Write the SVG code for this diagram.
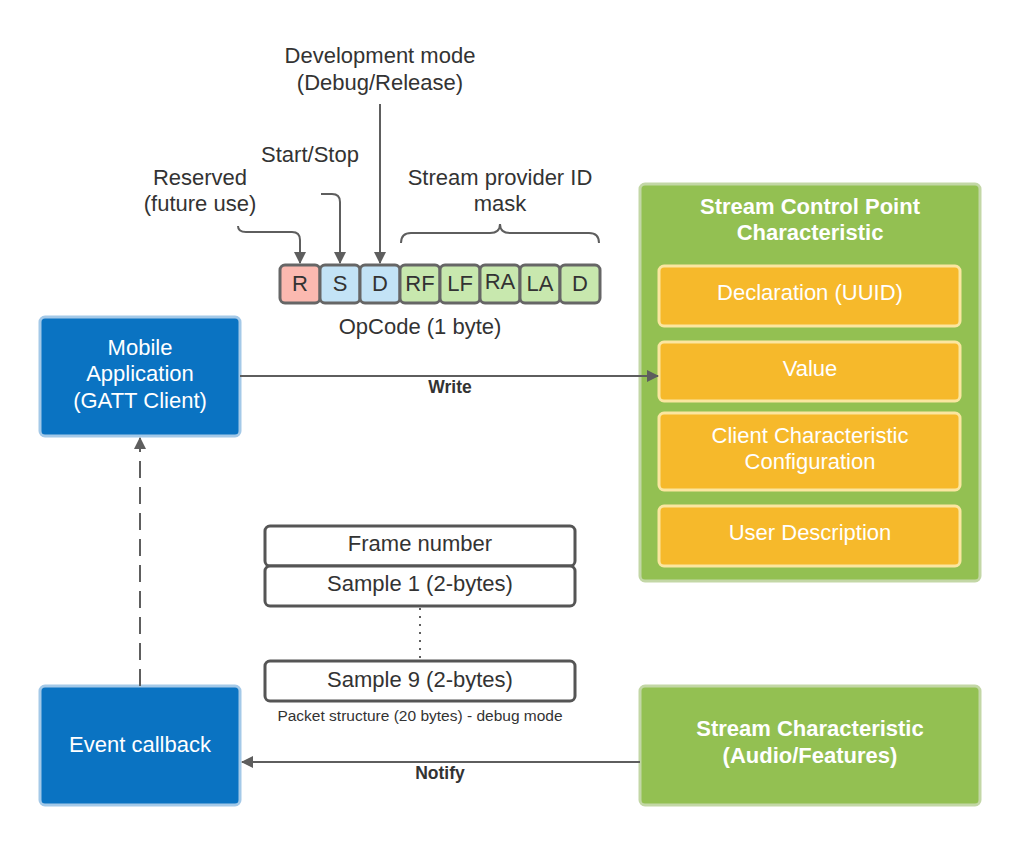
<svg xmlns="http://www.w3.org/2000/svg" width="1020" height="846" viewBox="0 0 1020 846">
<style>
text{font-family:"Liberation Sans",Arial,sans-serif;}
.t{font-size:22px;fill:#333;text-anchor:middle;}
.w{font-size:22px;fill:#fff;text-anchor:middle;}
.wb{font-size:22px;fill:#fff;text-anchor:middle;font-weight:bold;}
.lb{font-size:17.5px;fill:#333;text-anchor:middle;font-weight:bold;}
.blue{fill:#0a73c2;stroke:#a4c9e8;stroke-width:3;}
.green{fill:#93c052;stroke:#c3d7a6;stroke-width:3;}
.orange{fill:#f6b92b;stroke:#fbe6a0;stroke-width:3;}
.cell{stroke:#666;stroke-width:3;}
.pk{fill:#fff;stroke:#555;stroke-width:3;}
.ln{fill:none;stroke:#5e5e5e;stroke-width:2;}
</style>
<defs>
<marker id="ah" markerWidth="12" markerHeight="12" viewBox="0 0 12 12" refX="11" refY="6" orient="auto" markerUnits="userSpaceOnUse">
<path d="M0,0 L12,6 L0,12 Z" fill="#5e5e5e"/>
</marker>
</defs>

<g id="labels">
<text class="t" x="380" y="63">Development mode</text>
<text class="t" x="380" y="90">(Debug/Release)</text>
<text class="t" x="310" y="162">Start/Stop</text>
<text class="t" x="200" y="185">Reserved</text>
<text class="t" x="200" y="211">(future use)</text>
<text class="t" x="500" y="185">Stream provider ID</text>
<text class="t" x="500" y="211">mask</text>
<text class="t" x="420" y="334">OpCode (1 byte)</text>
</g>

<g id="opcode">
<rect class="cell" x="280" y="265" width="40" height="38" rx="5" fill="#fbb9b0"/>
<rect class="cell" x="320" y="265" width="40" height="38" rx="5" fill="#c3e3f6"/>
<rect class="cell" x="360" y="265" width="40" height="38" rx="5" fill="#c3e3f6"/>
<rect class="cell" x="400" y="265" width="40" height="38" rx="5" fill="#c8e8ae"/>
<rect class="cell" x="440" y="265" width="40" height="38" rx="5" fill="#c8e8ae"/>
<rect class="cell" x="480" y="265" width="40" height="38" rx="5" fill="#c8e8ae"/>
<rect class="cell" x="520" y="265" width="40" height="38" rx="5" fill="#c8e8ae"/>
<rect class="cell" x="560" y="265" width="40" height="38" rx="5" fill="#c8e8ae"/>
<text class="t" x="300" y="291">R</text>
<text class="t" x="340" y="291">S</text>
<text class="t" x="380" y="291">D</text>
<text class="t" x="420" y="291">RF</text>
<text class="t" x="460" y="291">LF</text>
<text class="t" x="500" y="289">RA</text>
<text class="t" x="540" y="291">LA</text>
<text class="t" x="580" y="291">D</text>
</g>

<g id="mobile">
<rect class="blue" x="40" y="317" width="200" height="119" rx="5"/>
<text class="w" x="140" y="355">Mobile</text>
<text class="w" x="140" y="381">Application</text>
<text class="w" x="140" y="408">(GATT Client)</text>
</g>

<g id="event">
<rect class="blue" x="40" y="686" width="200" height="119" rx="5"/>
<text class="w" x="140" y="752">Event callback</text>
</g>

<g id="scp">
<rect class="green" x="640" y="184" width="340" height="397" rx="5"/>
<text class="wb" x="810" y="214">Stream Control Point</text>
<text class="wb" x="810" y="240">Characteristic</text>
<rect class="orange" x="659" y="266" width="301" height="60" rx="5"/>
<text class="w" x="810" y="300">Declaration (UUID)</text>
<rect class="orange" x="659" y="342" width="301" height="59" rx="5"/>
<text class="w" x="810" y="376">Value</text>
<rect class="orange" x="659" y="413" width="301" height="77" rx="5"/>
<text class="w" x="810" y="443">Client Characteristic</text>
<text class="w" x="810" y="469">Configuration</text>
<rect class="orange" x="659" y="506" width="301" height="60" rx="5"/>
<text class="w" x="810" y="540">User Description</text>
</g>

<g id="stream">
<rect class="green" x="640" y="686" width="340" height="119" rx="5"/>
<text class="wb" x="810" y="736">Stream Characteristic</text>
<text class="wb" x="810" y="763">(Audio/Features)</text>
</g>

<g id="packet">
<rect class="pk" x="265" y="526" width="310" height="40" rx="5"/>
<text class="t" x="420" y="551">Frame number</text>
<rect class="pk" x="265" y="566" width="310" height="40" rx="5"/>
<text class="t" x="420" y="591">Sample 1 (2-bytes)</text>
<rect class="pk" x="265" y="661" width="310" height="40" rx="5"/>
<text class="t" x="420" y="687">Sample 9 (2-bytes)</text>
<text x="420" y="721" style="font-size:15.5px;fill:#333;text-anchor:middle">Packet structure (20 bytes) - debug mode</text>
</g>

<g id="connectors">
<path class="ln" d="M238,226 Q238,232 246,232 L292,232 Q300,232 300,240 L300,263" marker-end="url(#ah)"/>
<path class="ln" d="M321,194 L332,194 Q340,194 340,202 L340,263" marker-end="url(#ah)"/>
<path class="ln" d="M380,104 L380,263" marker-end="url(#ah)"/>
<path class="ln" stroke-width="2.5" d="M401,243 Q401,233 411,233 L490,233 Q500,233 500,224 Q500,233 510,233 L589,233 Q599,233 599,243"/>
<path class="ln" d="M240,376 L658,376" marker-end="url(#ah)"/>
<text class="lb" x="450" y="393">Write</text>
<path class="ln" d="M640,762 L242,762" marker-end="url(#ah)"/>
<text class="lb" x="440" y="779">Notify</text>
<path class="ln" stroke-dasharray="17 9" d="M140,686 L140,438" marker-end="url(#ah)"/>
<path class="ln" stroke-width="1.2" stroke-dasharray="2 6" d="M420,608 L420,660"/>
</g>
</svg>
